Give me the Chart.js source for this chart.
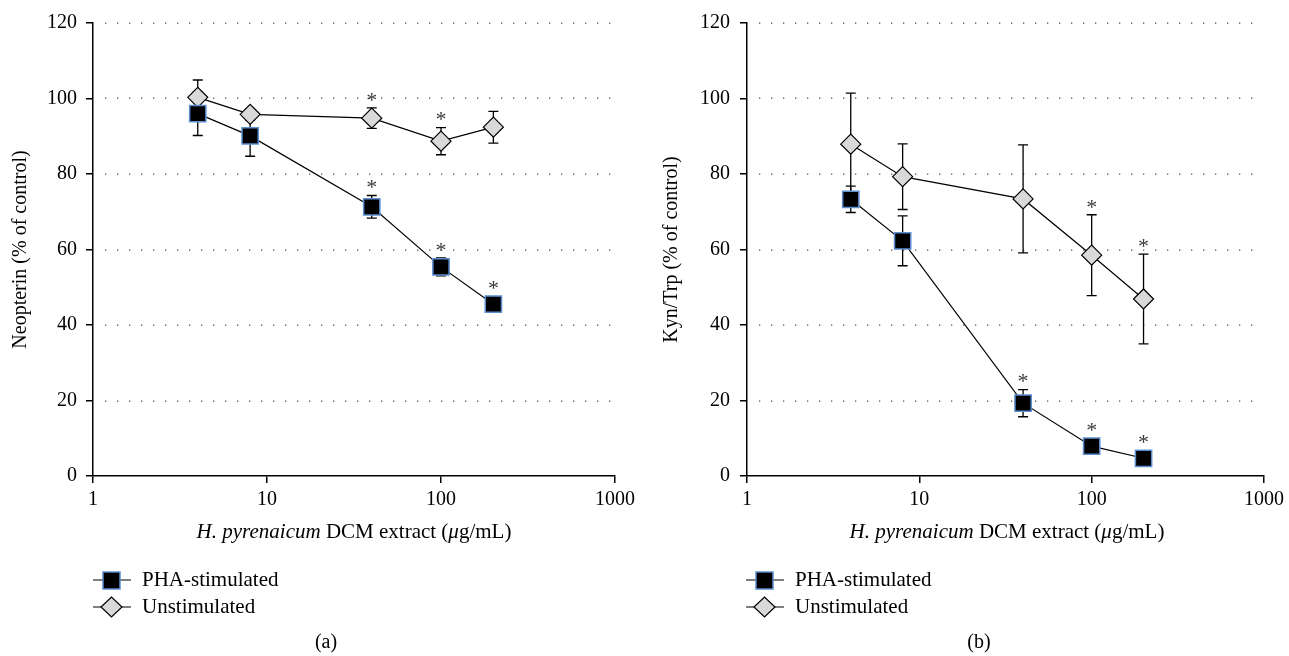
<!DOCTYPE html>
<html><head><meta charset="utf-8">
<script src="https://cdn.jsdelivr.net/npm/chart.js@4"></script>
<style>
body{margin:0;background:#fff;width:1289px;height:656px;overflow:hidden;position:relative;font-family:"Liberation Serif",serif;color:#000}
.panel{position:absolute;top:0;width:645px;height:656px}
#pa{left:0} #pb{left:645px}
.panel canvas{position:absolute;left:0;top:0}
.xt{position:absolute;font-size:21px;white-space:nowrap;transform:translate(-50%,-50%)}
.leg{position:absolute;font-size:21px;line-height:27px}
.leg div{height:27px;display:flex;align-items:center}
.leg svg{margin-right:11px;flex:none}
.lab{position:absolute;font-size:20px;transform:translate(-50%,-50%)}
</style></head>
<body>
<div class="panel" id="pa"><canvas id="ca" width="645" height="656"></canvas></div>
<div class="panel" id="pb"><canvas id="cb" width="644" height="656"></canvas></div>

<div class="xt" style="left:354px;top:531px"><i>H. pyrenaicum</i> DCM extract (<i>μ</i>g/mL)</div>
<div class="xt" style="left:1007px;top:531px"><i>H. pyrenaicum</i> DCM extract (<i>μ</i>g/mL)</div>

<div class="leg" style="left:93px;top:566px">
 <div><svg width="38" height="20"><line x1="0" y1="10" x2="38" y2="10" stroke="#000" stroke-width="1.2"/><rect x="10" y="2" width="17" height="17" fill="#000" stroke="#5b8fd0" stroke-width="1.5"/></svg>PHA-stimulated</div>
 <div><svg width="38" height="22"><line x1="0" y1="11" x2="38" y2="11" stroke="#000" stroke-width="1.2"/><polygon points="8,11 18.5,1 29,11 18.5,21" fill="#d9d9d9" stroke="#000" stroke-width="1.2"/></svg>Unstimulated</div>
</div>
<div class="leg" style="left:746px;top:566px">
 <div><svg width="38" height="20"><line x1="0" y1="10" x2="38" y2="10" stroke="#000" stroke-width="1.2"/><rect x="10" y="2" width="17" height="17" fill="#000" stroke="#5b8fd0" stroke-width="1.5"/></svg>PHA-stimulated</div>
 <div><svg width="38" height="22"><line x1="0" y1="11" x2="38" y2="11" stroke="#000" stroke-width="1.2"/><polygon points="8,11 18.5,1 29,11 18.5,21" fill="#d9d9d9" stroke="#000" stroke-width="1.2"/></svg>Unstimulated</div>
</div>
<div class="lab" style="left:326px;top:641px">(a)</div>
<div class="lab" style="left:979px;top:641px">(b)</div>

<script>
// ---- data ----
const doses = [4, 8, 40, 100, 200];
const xTickValues = [1, 10, 100, 1000];
const yTickValues = [0, 20, 40, 60, 80, 100, 120];
const seriesNames = ['PHA-stimulated', 'Unstimulated'];

const neoPHA      = [96.0, 90.1, 71.3, 55.4, 45.5];
const neoPHAErr   = [5.8, 5.4, 3.0, 2.4, 1.0];
const neoPHASig   = [false, false, true, true, true];
const neoUnstim   = [100.3, 95.8, 94.8, 88.7, 92.4];
const neoUnstimErr= [4.6, 1.5, 2.7, 3.6, 4.2];
const neoUnstimSig= [false, false, true, true, false];

const kynPHA      = [73.3, 62.3, 19.3, 7.9, 4.7];
const kynPHAErr   = [3.5, 6.6, 3.6, 1.0, 0.8];
const kynPHASig   = [false, false, true, true, true];
const kynUnstim   = [87.9, 79.3, 73.4, 58.5, 46.9];
const kynUnstimErr= [13.5, 8.7, 14.3, 10.7, 11.9];
const kynUnstimSig= [false, false, false, true, true];

const SERIF = '"Liberation Serif", serif';

const extrasPlugin = {
  id: 'extras',
  beforeDatasetsDraw(chart) {
    const {ctx, chartArea: a, scales: {x, y}} = chart;
    // dotted horizontal grid lines
    ctx.save();
    ctx.fillStyle = '#555';
    yTickValues.forEach(v => {
      if (v === 0) return;
      const py = Math.round(y.getPixelForValue(v));
      for (let px = a.left + 12; px <= a.right - 4; px += 12) {
        ctx.fillRect(px, py - 0.5, 1.3, 1.3);
      }
    });
    // error bars
    ctx.strokeStyle = '#000';
    ctx.lineWidth = 1.3;
    chart.data.datasets.forEach(ds => {
      ds.data.forEach((p, i) => {
        const e = ds.err[i];
        const px = x.getPixelForValue(p.x);
        const y1 = y.getPixelForValue(p.y + e), y2 = y.getPixelForValue(p.y - e);
        ctx.beginPath();
        ctx.moveTo(px, y1); ctx.lineTo(px, y2);
        ctx.moveTo(px - 5, y1); ctx.lineTo(px + 5, y1);
        ctx.moveTo(px - 5, y2); ctx.lineTo(px + 5, y2);
        ctx.stroke();
      });
    });
    ctx.restore();
  },
  afterDatasetsDraw(chart) {
    const {ctx, scales: {x, y}} = chart;
    ctx.save();
    ctx.fillStyle = '#3a3a3a';
    ctx.font = '22px ' + SERIF;
    ctx.textAlign = 'center';
    ctx.textBaseline = 'middle';
    chart.data.datasets.forEach(ds => {
      ds.data.forEach((p, i) => {
        if (!ds.sig[i]) return;
        const px = x.getPixelForValue(p.x);
        const top = Math.min(y.getPixelForValue(p.y + ds.err[i]), y.getPixelForValue(p.y) - 8);
        ctx.fillText('*', px, top - 7);
      });
    });
    ctx.restore();
  }
};

function makeChart(id, pha, phaErr, phaSig, un, unErr, unSig, yTitle, yWidth, titlePad, tickPad, rightPad) {
  const pts = v => doses.map((d, i) => ({x: d, y: v[i]}));
  return new Chart(document.getElementById(id), {
    type: 'line',
    data: {
      datasets: [
        {label: seriesNames[0], data: pts(pha), err: phaErr, sig: phaSig,
         borderColor: '#000', borderWidth: 1.2, pointStyle: 'rect', pointRadius: 11.5,
         pointBackgroundColor: '#000', pointBorderColor: '#5b8fd0', pointBorderWidth: 1.5, fill: false},
        {label: seriesNames[1], data: pts(un), err: unErr, sig: unSig,
         borderColor: '#000', borderWidth: 1.2, pointStyle: 'rectRot', pointRadius: 10,
         pointBackgroundColor: '#d9d9d9', pointBorderColor: '#000', pointBorderWidth: 1.2, fill: false}
      ]
    },
    options: {
      responsive: false, animation: false, events: [],
      layout: {padding: {left: 0, top: 23, right: rightPad, bottom: 150}},
      plugins: {legend: {display: false}, tooltip: {enabled: false}},
      scales: {
        x: {
          type: 'logarithmic', min: 1, max: 1000,
          afterBuildTicks: s => { s.ticks = xTickValues.map(v => ({value: v})); },
          afterFit: s => { s.height = 30; },
          ticks: {callback: v => String(v), color: '#000', font: {family: SERIF, size: 20}, padding: 5, maxRotation: 0, autoSkip: false},
          grid: {drawOnChartArea: false, drawTicks: true, tickLength: 7, color: '#000', lineWidth: 1.5},
          border: {color: '#000', width: 1.5}
        },
        y: {
          min: 0, max: 120,
          afterBuildTicks: s => { s.ticks = yTickValues.map(v => ({value: v})); },
          afterFit: s => { s.width = yWidth; },
          ticks: {color: '#000', font: {family: SERIF, size: 20}, padding: tickPad},
          grid: {drawOnChartArea: false, drawTicks: true, tickLength: 7, color: '#000', lineWidth: 1.5},
          border: {color: '#000', width: 1.5},
          title: {display: true, text: yTitle, color: '#000', font: {family: SERIF, size: 20}, padding: {top: titlePad, bottom: 0}}
        }
      }
    },
    plugins: [extrasPlugin]
  });
}

makeChart('ca', neoPHA, neoPHAErr, neoPHASig, neoUnstim, neoUnstimErr, neoUnstimSig, 'Neopterin (% of control)', 93, 9, 9, 30);
makeChart('cb', kynPHA, kynPHAErr, kynPHASig, kynUnstim, kynUnstimErr, kynUnstimSig, 'Kyn/Trp (% of control)', 102, 15, 10, 21);
</script>
</body></html>
